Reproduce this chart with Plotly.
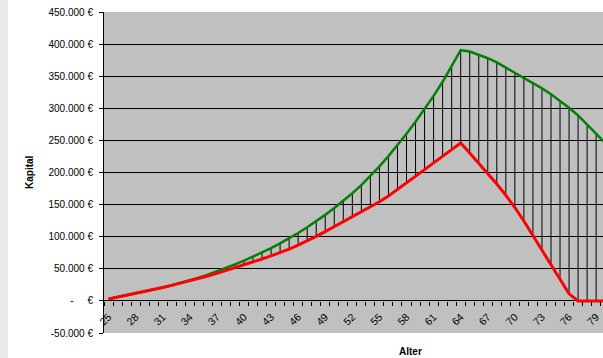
import plotly.graph_objects as go

ages = list(range(25, 81))

kapital_gruen = [3000, 5800, 8700, 11600, 14600, 17700, 20900, 24300, 28000, 32000,
                 36300, 41000, 46000, 51300, 56800, 62600, 68700, 75200, 82100, 89500,
                 97400, 105800, 114600, 124000, 134000, 144600, 155800, 167700, 180300, 194500,
                 209500, 225500, 242500, 260300, 279000, 298700, 319400, 341300, 364900, 390500,
                 388500, 383500, 378000, 371500, 363500, 355700, 348300, 340000, 331000, 321800,
                 311500, 300800, 288800, 275000, 260500, 246000]

kapital_rot = [3000, 5800, 8700, 11600, 14600, 17700, 20900, 24200, 27600, 31100,
               34800, 38700, 42800, 47100, 51500, 56000, 60600, 65300, 70200, 75300,
               80800, 86800, 93400, 100500, 108000, 115600, 123300, 131000, 138800, 146500,
               154500, 163500, 173500, 183500, 194000, 204500, 215000, 225500, 235500, 246000,
               230500, 214500, 198500, 182000, 164500, 145500, 124500, 102000, 79500, 56000,
               32500, 11000, 0, 0, 0, 0]

x_tick_ages = list(range(25, 80, 3))
y_tick_values = list(range(-50000, 450001, 50000))
y_tick_labels = ["-50.000 €", "-\u00a0\u00a0\u00a0\u00a0\u00a0€", "50.000 €", "100.000 €",
                 "150.000 €", "200.000 €", "250.000 €", "300.000 €", "350.000 €",
                 "400.000 €", "450.000 €"]

FONT = "Arial, 'Liberation Sans', sans-serif"

drop_x, drop_y = [], []
for a, g, r in zip(ages, kapital_gruen, kapital_rot):
    drop_x += [a, a, None]
    drop_y += [g, r, None]

fig = go.Figure()
fig.add_trace(go.Scatter(x=drop_x, y=drop_y, mode="lines",
                         line=dict(color="black", width=1), hoverinfo="skip"))
fig.add_trace(go.Scatter(x=ages, y=kapital_gruen, mode="lines",
                         line=dict(color="#008000", width=2.5)))
fig.add_trace(go.Scatter(x=ages, y=kapital_rot, mode="lines",
                         line=dict(color="#ff0000", width=3)))

W, H = 603, 358
L, R, T, B = 104, 0, 12, 25
pw, ph = W - L - R, H - T - B
cat_w = 9.03

fig.update_layout(
    width=W, height=H,
    margin=dict(l=L, r=R, t=T, b=B, autoexpand=False),
    paper_bgcolor="white",
    plot_bgcolor="#c0c0c0",
    showlegend=False,
    font=dict(family=FONT, size=10, color="black"),
    xaxis=dict(
        range=[24.5, 24.5 + pw / cat_w],
        anchor="free", position=0.1, automargin=False,
        tickmode="array", tickvals=x_tick_ages, ticktext=[str(a) for a in x_tick_ages],
        tickangle=-45, ticks="", showgrid=False, zeroline=False, showline=False,
        ticklabelstandoff=7,
        minor=dict(tick0=24.5, dtick=1, ticks="outside", ticklen=4,
                   tickcolor="black", tickwidth=1, showgrid=False),
        tickfont=dict(size=10.5),
    ),
    yaxis=dict(
        range=[-50000, 450000], automargin=False,
        tickmode="array", tickvals=y_tick_values, ticktext=y_tick_labels,
        ticks="outside", ticklen=4, tickcolor="black",
        showgrid=True, gridcolor="black", gridwidth=1,
        zeroline=True, zerolinecolor="black", zerolinewidth=1,
        showline=True, linecolor="black", linewidth=1,
        ticklabelstandoff=4,
        tickfont=dict(size=10),
    ),
    shapes=[dict(type="rect", xref="paper", yref="paper",
                 x0=-L / pw, x1=(8 - L) / pw, y0=-B / ph - 0.01, y1=1 + T / ph + 0.01,
                 fillcolor="#e9e9e9", line=dict(width=0), layer="below")],
    annotations=[
        dict(text="<b>Kapital</b>", xref="paper", yref="paper",
             x=(29 - L) / pw, y=(H - B - 172) / ph, textangle=-90, showarrow=False,
             font=dict(size=10, family=FONT), xanchor="center", yanchor="middle"),
        dict(text="<b>Alter</b>", xref="paper", yref="paper",
             x=(410 - L) / pw, y=(H - B - 351) / ph, showarrow=False,
             font=dict(size=10, family=FONT), xanchor="center", yanchor="middle"),
    ],
)

fig.write_html("out.html", config={"displayModeBar": False},
               post_script="document.body.style.margin='0';document.body.style.overflow='hidden';")
